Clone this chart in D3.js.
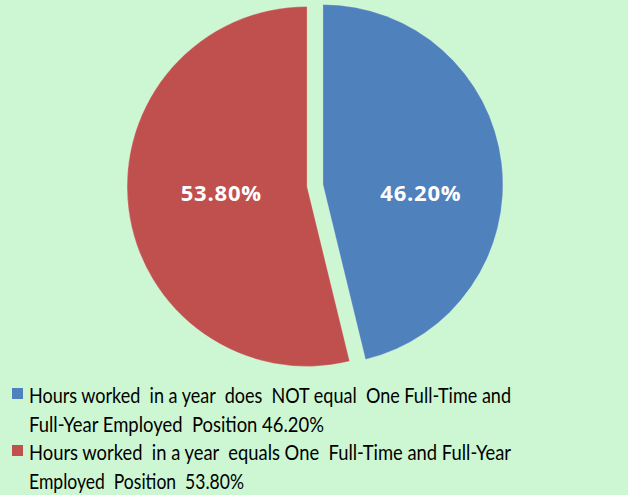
<!DOCTYPE html>
<html>
<head>
<meta charset="utf-8">
<script src="https://cdn.jsdelivr.net/npm/d3@7/dist/d3.min.js"></script>
<style>
html, body { margin: 0; padding: 0; background: #cdf7d2; }
svg { display: block; }
</style>
</head>
<body>
<script>
const categories = [
  "Hours worked in a year does NOT equal One Full-Time and Full-Year Employed Position",
  "Hours worked in a year equals One Full-Time and Full-Year Employed Position"
];
const values = [46.2, 53.8];
const valueLabels = ["46.20%", "53.80%"];
const legendLines = [
  ["Hours worked  in a year  does  NOT equal  One Full-Time and", "Full-Year Employed  Position 46.20%"],
  ["Hours worked  in a year  equals One  Full-Time and Full-Year", "Employed  Position  53.80%"]
];
const colors = ["#4f81bd", "#c0504d"];

const W = 628, H = 495;
const svg = d3.select("body").append("svg").attr("width", W).attr("height", H);
svg.append("rect").attr("width", W).attr("height", H).attr("fill", "#cdf7d2");

const cx = 315, cy = 185.5, r = 180, explode = 8;
const labelFactor = [0.548, 0.48];
const pie = d3.pie().sort(null).value(d => d)(values);
const arc = d3.arc().innerRadius(0).outerRadius(r);

const g = svg.append("g").attr("transform", `translate(${cx},${cy})`);
pie.forEach((p, i) => {
  const mid = (p.startAngle + p.endAngle) / 2;
  const dx = Math.sin(mid) * explode, dy = -Math.cos(mid) * explode;
  const sg = g.append("g").attr("transform", `translate(${dx},${dy})`);
  sg.append("path").attr("d", arc(p)).attr("fill", colors[i])
    .attr("stroke", "rgba(255,255,255,0.25)").attr("stroke-width", 1);
  const lx = Math.sin(mid) * r * labelFactor[i];
  sg.append("text").attr("x", lx).attr("y", 15 - dy)
    .attr("text-anchor", "middle")
    .attr("font-family", "'Open Sans', sans-serif").attr("font-weight", "bold")
    .attr("font-size", 22).attr("letter-spacing", 0.8).attr("fill", "#ffffff")
    .text(valueLabels[i]);
});

// legend
const lg = svg.append("g");
const lineW = [[482, 295], [482, 215]];
const baseY = [403, 460];
legendLines.forEach((lines, i) => {
  lg.append("rect").attr("x", 12).attr("y", baseY[i] - 15).attr("width", 11).attr("height", 11)
    .attr("fill", colors[i]);
  lines.forEach((t, j) => {
    lg.append("text").attr("x", 29).attr("y", baseY[i] + j * 29)
      .attr("font-family", "Lato, 'Open Sans', sans-serif").attr("font-size", 22)
      .attr("fill", "#000").attr("textLength", lineW[i][j]).attr("lengthAdjust", "spacingAndGlyphs")
      .attr("xml:space", "preserve").style("white-space", "pre")
      .text(t);
  });
});
</script>
</body>
</html>
